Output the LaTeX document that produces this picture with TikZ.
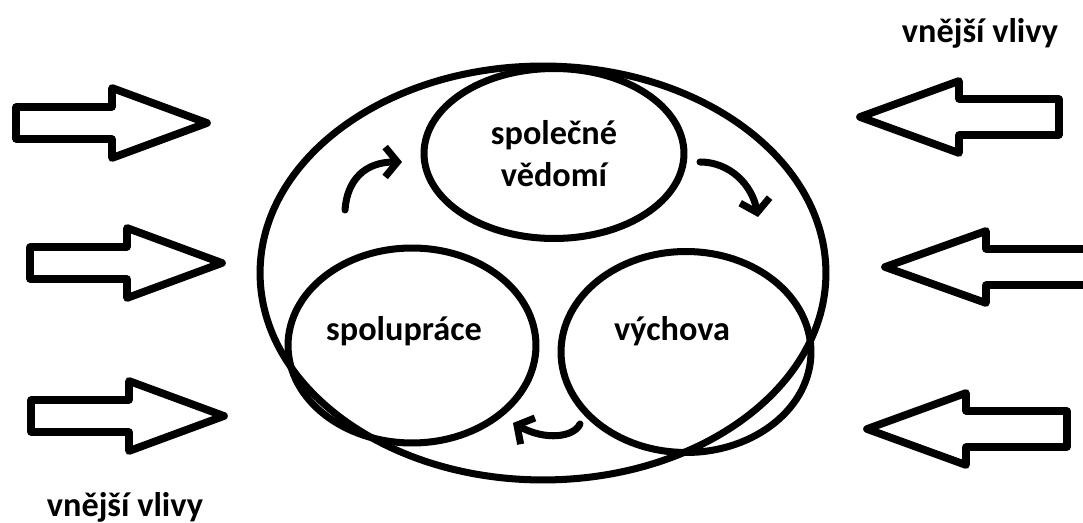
\documentclass[tikz,border=0pt]{standalone}
\usepackage{fontspec}
\setmainfont{Carlito}
\usetikzlibrary{shapes.geometric,arrows.meta}

\tikzset{
	kruh/.style={draw, ellipse, line width=4pt, inner sep=0pt},
	popis/.style={font=\fontsize{19.5}{24}\selectfont\bfseries, align=center, inner sep=0pt},
	sipka/.style={line width=4.4pt, line join=round},
	obeh/.style={line width=4pt, line cap=round, line join=round,
		-{Straight Barb[length=7pt,width=17pt]}}
}

\begin{document}
\begin{tikzpicture}[x=0.02cm, y=-0.02cm]
	\useasboundingbox (0,0) rectangle (1083,523);
	\clip (0,0) rectangle (1083,523);
	% Elipsy
	\node[kruh, minimum width=11.32cm, minimum height=8.28cm] (okoli) at (543,273) {};
	\node[kruh, minimum width=5.2cm, minimum height=3.4cm] (vedomi) at (554,153.5) {};
	\node[kruh, minimum width=4.96cm, minimum height=3.9cm] (spoluprace) at (412,345.5) {};
	\node[kruh, minimum width=5.0cm, minimum height=4.02cm] (vychova) at (686,352) {};
	% Texty
	\node[popis] (tvedomi) at (554,154) {společné\\vědomí};
	\node[popis] (tspoluprace) at (404,331) {spolupráce};
	\node[popis] (tvychova) at (672,331) {výchova};
	\node[popis] (vlivyA) at (980,33) {vnější vlivy};
	\node[popis] (vlivyB) at (125,507) {vnější vlivy};
	% Obeh
	\coordinate (a1) at (345,210);
	\coordinate (b1) at (402,162);
	\coordinate (a2) at (700,162);
	\coordinate (b2) at (758,217);
	\coordinate (a3) at (580,424);
	\coordinate (b3) at (513,423);
	\draw[obeh] (a1) .. controls (347,180) and (365,162) .. (b1);
	\draw[obeh] (a2) .. controls (730,162) and (752,185) .. (b2);
	\draw[obeh] (a3) .. controls (574,437) and (546,441) .. (b3);
	% Vnejsi vlivy zleva
	\foreach \y/\a/\b/\c in {123/16/112/207, 263/30/127/222, 416/31/129/224}
		\draw[sipka] (\a,\y-16) -- (\b,\y-16) -- (\b,\y-35) -- (\c,\y)
			-- (\b,\y+35) -- (\b,\y+16) -- (\a,\y+16) -- cycle;
	% Vnejsi vlivy zprava
	\foreach \y/\a/\b/\c in {117/860/959/1059, 267/885/986/1095, 429/867/966/1067}
		\draw[sipka] (\c,\y-18) -- (\b,\y-18) -- (\b,\y-36) -- (\a,\y)
			-- (\b,\y+36) -- (\b,\y+18) -- (\c,\y+18) -- cycle;
\end{tikzpicture}
\end{document}
